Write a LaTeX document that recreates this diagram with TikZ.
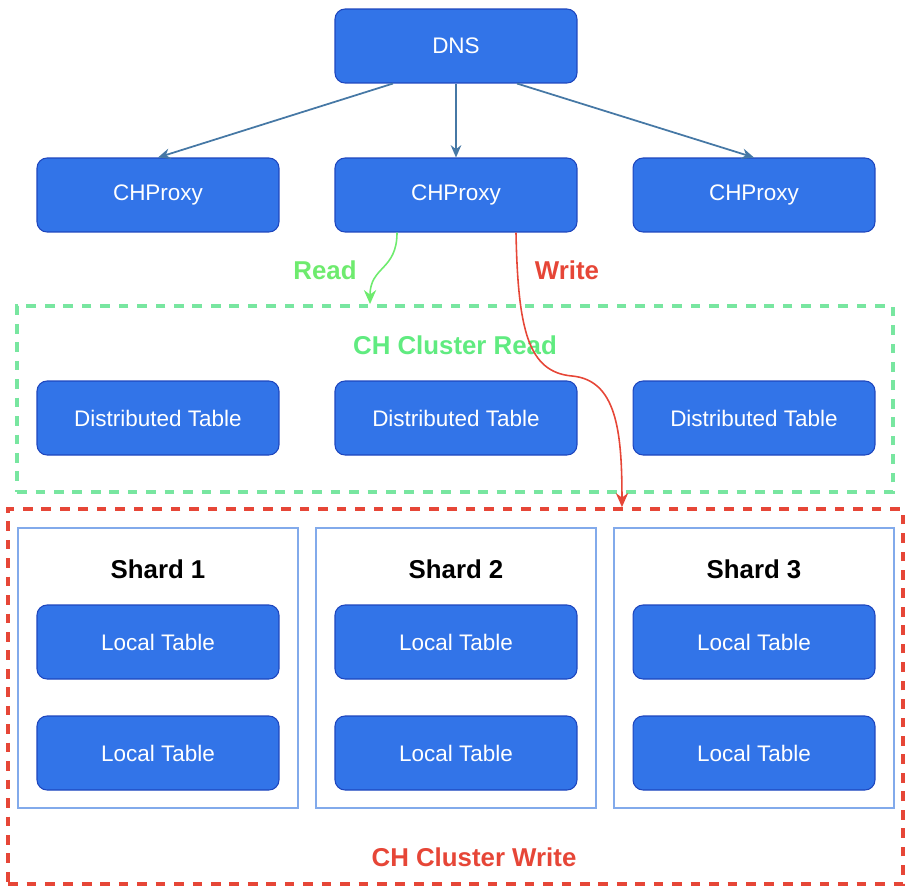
\documentclass[tikz,border=0pt]{standalone}
\usepackage{fontspec}
\setmainfont{Liberation Sans}
\usetikzlibrary{arrows.meta,positioning,calc}
\definecolor{xbox}{RGB}{50,116,232}
\definecolor{xboxline}{RGB}{30,70,190}
\definecolor{xsteel}{RGB}{70,120,165}
\definecolor{xgreen}{RGB}{110,235,110}
\definecolor{xmint}{RGB}{120,230,160}
\definecolor{xred}{RGB}{230,70,55}
\definecolor{xshard}{RGB}{130,170,235}

\begin{document}
\begin{tikzpicture}[
  x=0.02cm, y=-0.02cm,
  blue box/.style={draw=xboxline, fill=xbox, rounded corners=0.2cm,
                   minimum width=4.84cm, minimum height=1.48cm,
                   font=\fontsize{12.8}{15}\selectfont, text=white, align=center,
                   line width=0.6pt},
  shardbox/.style={draw=xshard, fill=white, line width=0.8pt,
                   minimum width=5.6cm, minimum height=5.6cm},
  region/.style={line width=2.2pt, dash pattern=on 5.5pt off 5pt},
  title/.style={font=\bfseries\fontsize{14.7}{17}\selectfont},
  linkarr/.style={-{Stealth[length=7pt,width=6pt]}, line width=1pt, color=xsteel},
  flowarr/.style={-{Stealth[length=8pt,width=7pt]}, line width=0.9pt}
]
  \useasboundingbox (0,0) rectangle (910,890);

  % cluster regions
  \node[region, draw=xmint, minimum width=17.52cm, minimum height=3.72cm] (clusterread) at (455,399) {};
  \node[region, draw=xred, minimum width=17.9cm, minimum height=7.5cm] (clusterwrite) at (455.5,696.5) {};

  \node[title, text=xmint!80!green] (readlabel)  at (455,345) {CH Cluster Read};
  \node[title, text=xred]           (writelabel) at (474,857) {CH Cluster Write};

  % top layer
  \node[blue box] (dns)    at (456,46)  {DNS};
  \node[blue box] (proxy1) at (158,195) {CHProxy};
  \node[blue box] (proxy2) at (456,195) {CHProxy};
  \node[blue box] (proxy3) at (754,195) {CHProxy};

  \draw[linkarr] ([xshift=-1.26cm]dns.south) -- (proxy1.north);
  \draw[linkarr] (dns.south) -- (proxy2.north);
  \draw[linkarr] ([xshift=1.22cm]dns.south) -- (proxy3.north);

  % distributed tables
  \foreach \x/\i in {158/1,456/2,754/3}
    \node[blue box] (dist\i) at (\x,418) {Distributed Table};

  % shards with local tables
  \foreach \x/\i in {158/1,456/2,754/3}{
    \node[shardbox] (shard\i) at (\x,668) {};
    \node[title] (shardname\i) at (\x,569) {Shard \i};
    \node[blue box] (local\i a) at (\x,642) {Local Table};
    \node[blue box] (local\i b) at (\x,753) {Local Table};
  }

  % read / write paths
  \draw[flowarr, color=xgreen] ([xshift=-1.18cm]proxy2.south)
    .. controls +(0,38) and +(0,-38) .. ([xshift=-1.7cm]clusterread.north);
  \draw[flowarr, color=xred] ([xshift=1.2cm]proxy2.south)
    .. controls (518,330) and (528,372) .. (572,376)
    .. controls (616,380) and (622,430) .. ([xshift=3.33cm]clusterwrite.north);

  \node[title, text=xgreen] (readtag)  at (325,270) {Read};
  \node[title, text=xred]   (writetag) at (567,270) {Write};
\end{tikzpicture}
\end{document}
